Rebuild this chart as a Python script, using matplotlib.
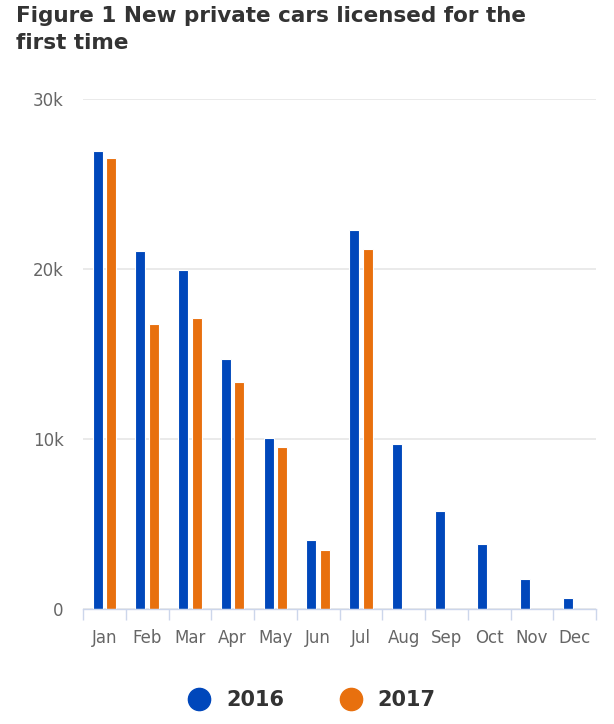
import numpy as np
import matplotlib.pyplot as plt
from matplotlib.ticker import FuncFormatter, FixedLocator
from matplotlib.lines import Line2D

'''数据'''
months = ["Jan", "Feb", "Mar", "Apr", "May", "Jun", "Jul", "Aug", "Sep", "Oct", "Nov", "Dec"]
cars_2016 = [26990, 21080, 19950, 14730, 10060, 4030, 22320, 9720, 5720, 3790, 1730, 600]
cars_2017 = [26540, 16770, 17100, 13370, 9500, 3460, 21180]
series_names = ["2016", "2017"]

'''样式'''
blue = "#0047bb"
orange = "#e8700e"
grid_col = "#e6e6e6"
axis_col = "#ccd6eb"
text_col = "#666666"

fig = plt.figure(figsize=(6.14, 7.24), dpi=100)
ax = fig.add_axes([0.1352, 0.1595, 0.9707 - 0.1352, 0.8626 - 0.1595])

x = np.arange(len(months))
w = 0.235
ax.bar(x - 0.16, cars_2016, width=w, color=blue, edgecolor="white", linewidth=0.8, zorder=3)
ax.bar(x[:len(cars_2017)] + 0.16, cars_2017, width=w, color=orange, edgecolor="white", linewidth=0.8, zorder=3)

ax.set_xlim(-0.5, len(months) - 0.5)
ax.set_ylim(0, 30000)

# y轴网格和标签
ax.set_yticks([0, 10000, 20000, 30000])
ax.yaxis.set_major_formatter(FuncFormatter(lambda v, p: "0" if v == 0 else "%dk" % (v / 1000)))
ax.yaxis.grid(True, color=grid_col, linewidth=1.2, zorder=0)
ax.tick_params(axis="y", length=0, pad=14, labelsize=12, labelcolor=text_col)

# x轴：标签在中间，刻度在分界处
ax.set_xticks(x)
ax.set_xticklabels(months)
ax.xaxis.set_minor_locator(FixedLocator(np.arange(-0.5, len(months), 1.0)))
ax.tick_params(axis="x", which="major", length=0, pad=15, labelsize=12, labelcolor=text_col)
ax.tick_params(axis="x", which="minor", length=8, width=1, color=axis_col)

for s in ["top", "right", "left"]:
    ax.spines[s].set_visible(False)
ax.spines["bottom"].set_color(axis_col)
ax.spines["bottom"].set_linewidth(1)
ax.spines["bottom"].set_zorder(4)

# 标题
fig.text(16 / 614, 1 - 6 / 724, "Figure 1 New private cars licensed for the\nfirst time",
         ha="left", va="top", fontsize=15.5, fontweight="bold", color="#333333", linespacing=1.45)

# 图例
handles = [Line2D([], [], marker="o", linestyle="none", markersize=16, color=blue),
           Line2D([], [], marker="o", linestyle="none", markersize=16, color=orange)]
leg = fig.legend(handles, series_names, loc="center", bbox_to_anchor=(0.5, 1 - 700 / 724),
                 ncol=2, frameon=False, handletextpad=0.3, columnspacing=2.2,
                 prop={"size": 15, "weight": "bold"})
for t in leg.get_texts():
    t.set_color("#333333")

fig.savefig("out.png", dpi=100)
